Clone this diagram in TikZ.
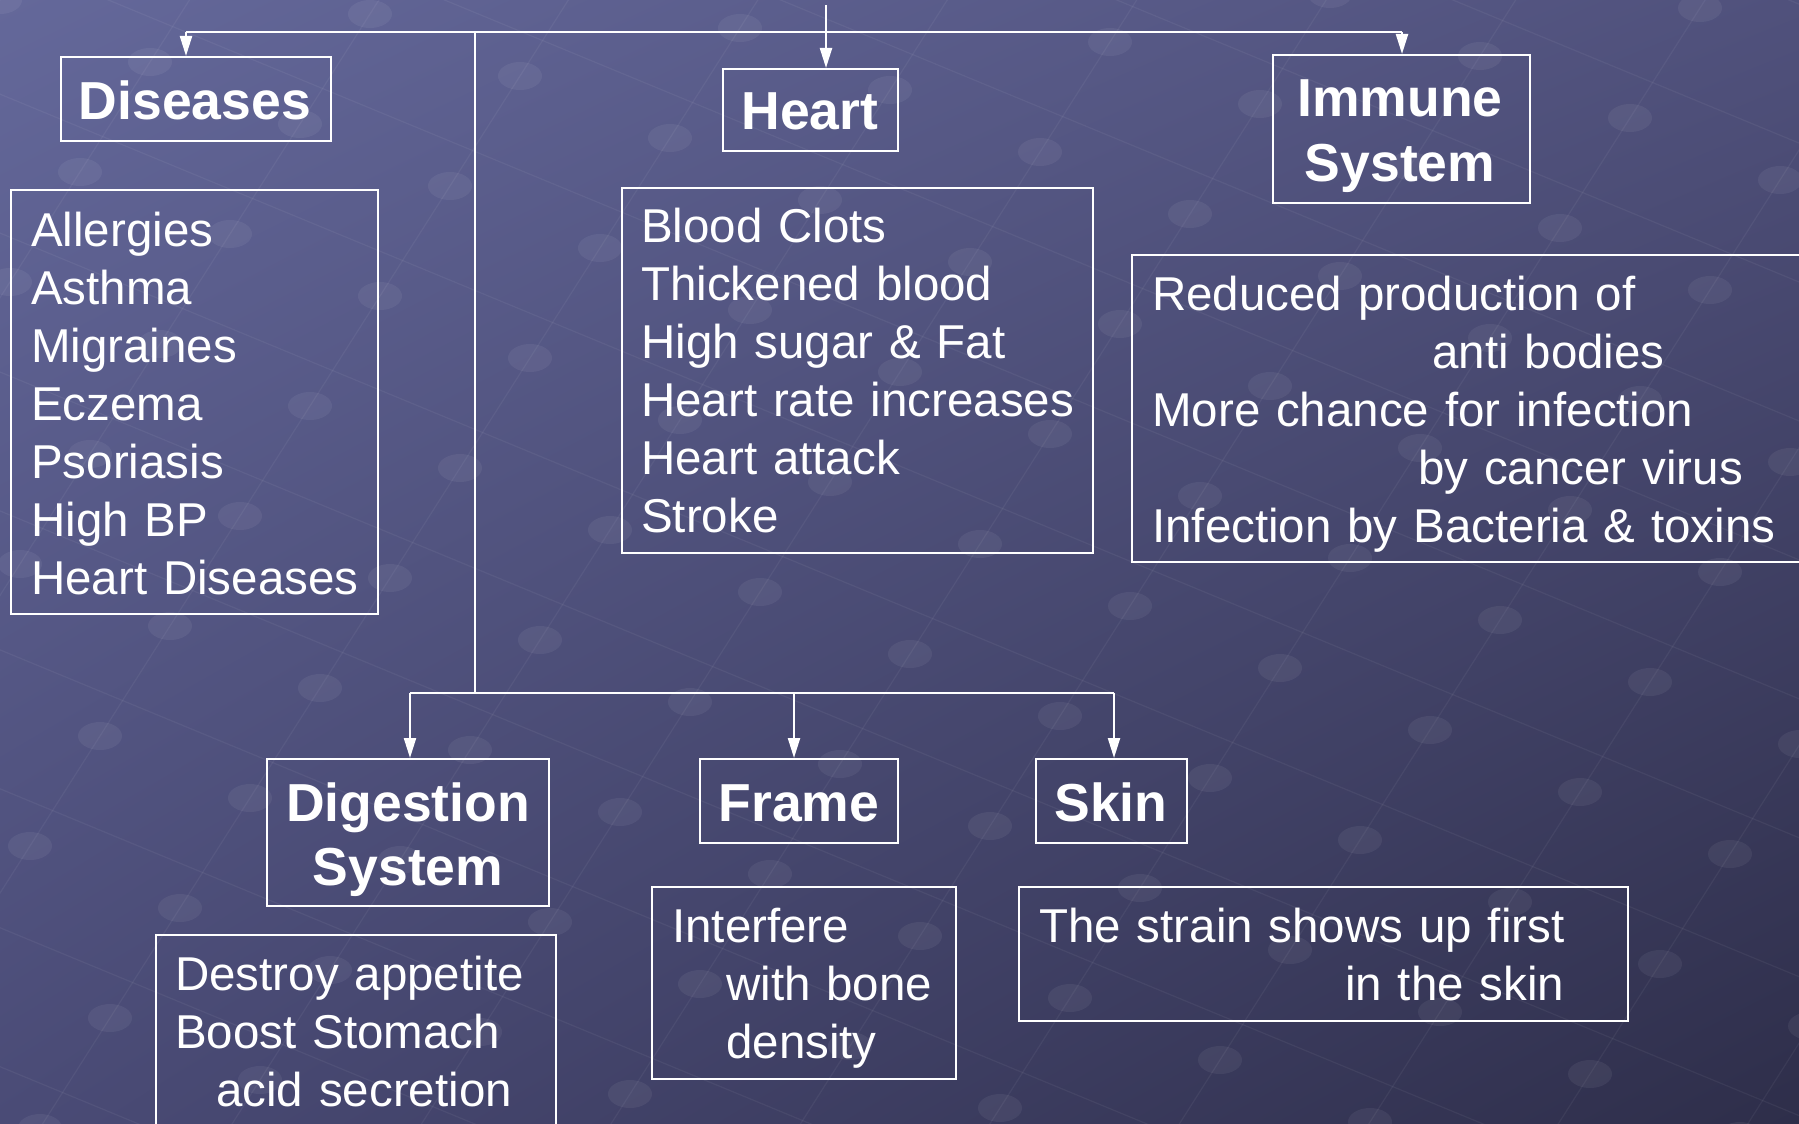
\documentclass[tikz,border=0pt]{standalone}
\usepackage{fontspec}
\setmainfont{Liberation Sans}
\usetikzlibrary{arrows.meta,calc,shadings}
\definecolor{bgUL}{RGB}{100,104,154}
\definecolor{bgUR}{RGB}{80,81,124}
\definecolor{bgLL}{RGB}{74,75,118}
\definecolor{bgLR}{RGB}{46,46,74}
\begin{document}
\begin{tikzpicture}[x=1pt,y=-1pt,
  frame/.style={draw=white, line width=2pt, inner sep=0pt, anchor=north west},
  headtext/.style={text=white, font=\bfseries\fontsize{53.5}{64.5}\selectfont,
    align=center, inner sep=0pt, anchor=base},
  listtext/.style={text=white, font=\fontsize{47.5}{58}\selectfont,
    align=left, inner sep=0pt, anchor=base west},
  link/.style={draw=white, line width=2.2pt},
  arr/.style={link, -{Triangle[length=20pt,width=12pt]}},
  dot/.style={fill=white, fill opacity=0.06},
  gridline/.style={draw=white, draw opacity=0.05, line width=1.2pt}]
\useasboundingbox (0,0) rectangle (1799,1124);
\clip (0,0) rectangle (1799,1124);
\shade[upper left=bgUL, upper right=bgUR, lower left=bgLL, lower right=bgLR]
  (0,0) rectangle (1799,1124);
% faint background network
\foreach \j in {-12,...,12}{
  \draw[gridline] ($(-900,0)+\j*(70,-110)+(-6*150,-6*62)$) -- ++(24*150,24*62);
}
\foreach \i in {-8,...,18}{
  \draw[gridline] ($\i*(150,62)+(-14*70,14*110)$) -- ++(28*70,-28*110);
}
\foreach \i in {-8,...,18}{
  \foreach \j in {-12,...,12}{
    \fill[dot] ($\i*(150,62)+\j*(70,-110)$) ellipse [x radius=22pt, y radius=14pt];
  }
}
% heading boxes
\node[frame, minimum width=270pt, minimum height=84pt]  (dis) at (60,56)   {};
\node[frame, minimum width=175pt, minimum height=82pt]  (hrt) at (722,68)  {};
\node[frame, minimum width=257pt, minimum height=148pt] (imm) at (1272,54) {};
\node[frame, minimum width=282pt, minimum height=147pt] (dig) at (266,758) {};
\node[frame, minimum width=198pt, minimum height=84pt]  (frm) at (699,758) {};
\node[frame, minimum width=151pt, minimum height=84pt]  (skn) at (1035,758) {};
\node[headtext, text width=270pt] (disT) at (195,119.5) {Diseases};
\node[headtext, text width=175pt] (hrtT) at (810,129) {Heart};
\node[headtext, text width=257pt] (immT) at (1400,116.5) {Immune\\System};
\node[headtext, text width=282pt] (digT) at (408,821) {Digestion\\System};
\node[headtext, text width=198pt] (frmT) at (799,821) {Frame};
\node[headtext, text width=151pt] (sknT) at (1111,821) {Skin};
% list boxes
\node[frame, minimum width=367pt, minimum height=424pt] (disl) at (10,189) {};
\node[frame, minimum width=471pt, minimum height=365pt] (hrtl) at (621,187) {};
\node[frame, minimum width=679pt, minimum height=307pt] (imml) at (1131,254) {};
\node[frame, minimum width=400pt, minimum height=200pt] (digl) at (155,934) {};
\node[frame, minimum width=304pt, minimum height=192pt] (frml) at (651,886) {};
\node[frame, minimum width=609pt, minimum height=134pt] (sknl) at (1018,886) {};
\node[listtext, text width=340pt] (dislT) at (31,246)
  {\mbox{Allergies}\\\mbox{Asthma}\\\mbox{Migraines}\\\mbox{Eczema}\\\mbox{Psoriasis}\\\mbox{High BP}\\\mbox{Heart Diseases}};
\node[listtext, text width=450pt] (hrtlT) at (641,242)
  {\mbox{Blood Clots}\\\mbox{Thickened blood}\\\mbox{High sugar \& Fat}\\\mbox{Heart rate increases}\\\mbox{Heart attack}\\\mbox{Stroke}};
\node[listtext, text width=640pt] (immlT) at (1152,310)
  {\mbox{Reduced production of}\\\hspace*{280pt}\mbox{anti bodies}\\\mbox{More chance for infection}\\\hspace*{266pt}\mbox{by cancer virus}\\\mbox{Infection by Bacteria \& toxins}};
\node[listtext, text width=380pt] (diglT) at (175,990)
  {\mbox{Destroy appetite}\\\mbox{Boost Stomach}\\\hspace*{41pt}\mbox{acid secretion}};
\node[listtext, text width=280pt] (frmlT) at (672,942)
  {\mbox{Interfere}\\\hspace*{54pt}\mbox{with bone}\\\hspace*{54pt}\mbox{density}};
\node[listtext, text width=590pt] (sknlT) at (1039,942)
  {\mbox{The strain shows up first}\\\hspace*{306pt}\mbox{in the skin}};
% connectors
\coordinate (root) at (826,5);
\coordinate (tL) at (186,32);
\coordinate (tR) at (1402,32);
\coordinate (tM) at (475,32);
\coordinate (bM) at (475,693);
\coordinate (bL) at (410,693);
\coordinate (bF) at (794,693);
\coordinate (bR) at (1114,693);
\draw[link] (tL) -- (tR);
\draw[arr] (root) -- (root |- hrt.north);
\draw[arr] (tL) -- (tL |- dis.north);
\draw[arr] (tR) -- (tR |- imm.north);
\draw[link] (tM) -- (bM);
\draw[link] (bL) -- (bR);
\draw[arr] (bL) -- (bL |- dig.north);
\draw[arr] (bF) -- (bF |- frm.north);
\draw[arr] (bR) -- (bR |- skn.north);
\end{tikzpicture}
\end{document}
